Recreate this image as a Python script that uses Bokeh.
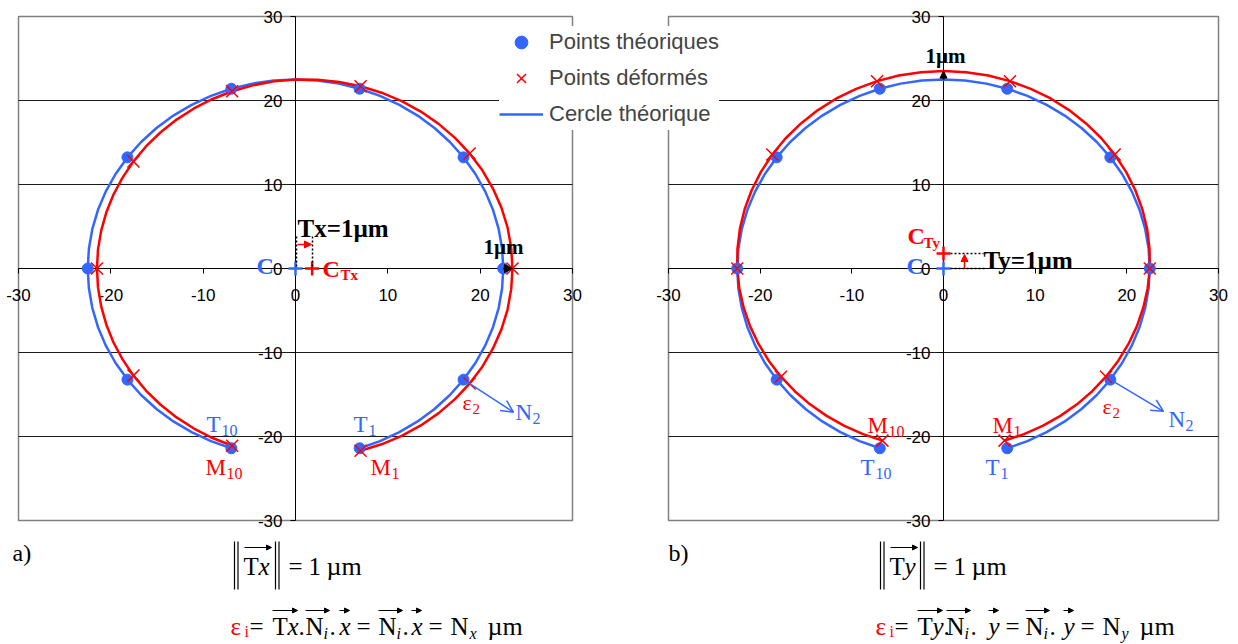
import numpy as np
from bokeh.plotting import figure
from bokeh.models import (Range1d, LinearAxis, FixedTicker, Legend, LegendItem,
                          Label, Arrow, NormalHead, OpenHead)
from bokeh.embed import file_html
from bokeh.resources import INLINE

# ---------------- data ----------------
R = 22.5          # theoretical radius
T_SHIFT = 1.0     # translation (µm)
TICKS = [-30, -20, -10, 0, 10, 20, 30]
TICK_LABELS = ["-30", "-20", "-10", "0", "10", "20", "30"]
GRID_Y = [-20, -10, 10, 20]

# theoretical points T1..T10
t_x = [6.95, 18.20, 22.50, 18.20, 6.95, -6.95, -18.20, -22.50, -18.20, -6.95]
t_y = [-21.40, -13.23, 0.0, 13.23, 21.40, 21.40, 13.23, 0.0, -13.23, -21.40]
# deformed points, panel a) (Tx)
ma_x = [7.05, 18.86, 23.50, 18.86, 7.05, -6.86, -17.55, -21.50, -17.55, -6.86]
ma_y = [-21.69, -13.70, 0.0, 13.70, 21.69, 21.10, 12.75, 0.0, -12.75, -21.10]
# deformed points, panel b) (Ty)
mb_x = [6.66, 17.73, 22.50, 18.68, 7.25, -7.25, -18.68, -22.50, -17.73, -6.66]
mb_y = [-20.49, -12.88, 0.0, 13.57, 22.30, 22.30, 13.57, 0.0, -12.88, -20.49]

# curves (polar samples: angle in degrees, radius)
curve_deg = [-72, -66, -60, -54, -48, -42, -36, -30, -24, -18, -12, -6, 0, 6, 12, 18, 24, 30,
             36, 42, 48, 54, 60, 66, 72, 78, 84, 90, 96, 102, 108, 114, 120, 126, 132, 138,
             144, 150, 156, 162, 168, 174, 180, 186, 192, 198, 204, 210, 216, 222, 228, 234,
             240, 246, 252]
circle_r = [22.5, 22.5, 22.5, 22.5, 22.5, 22.5, 22.5, 22.5, 22.5, 22.5, 22.5, 22.5, 22.5, 22.5,
            22.5, 22.5, 22.5, 22.5, 22.5, 22.5, 22.5, 22.5, 22.5, 22.5, 22.5, 22.5, 22.5, 22.5,
            22.5, 22.5, 22.5, 22.5, 22.5, 22.5, 22.5, 22.5, 22.5, 22.5, 22.5, 22.5, 22.5, 22.5,
            22.5, 22.5, 22.5, 22.5, 22.5, 22.5, 22.5, 22.5, 22.5, 22.5, 22.5, 22.5, 22.5]
curve_ra = [22.81, 22.91, 23.00, 23.09, 23.17, 23.24, 23.31, 23.37, 23.41, 23.45, 23.48, 23.49,
            23.50, 23.49, 23.48, 23.45, 23.41, 23.37, 23.31, 23.24, 23.17, 23.09, 23.00, 22.91,
            22.81, 22.71, 22.60, 22.50, 22.40, 22.29, 22.19, 22.09, 22.00, 21.91, 21.83, 21.76,
            21.69, 21.63, 21.59, 21.55, 21.52, 21.51, 21.50, 21.51, 21.52, 21.55, 21.59, 21.63,
            21.69, 21.76, 21.83, 21.91, 22.00, 22.09, 22.19]
curve_rb = [21.55, 21.59, 21.63, 21.69, 21.76, 21.83, 21.91, 22.00, 22.09, 22.19, 22.29, 22.40,
            22.50, 22.60, 22.71, 22.81, 22.91, 23.00, 23.09, 23.17, 23.24, 23.31, 23.37, 23.41,
            23.45, 23.48, 23.49, 23.50, 23.49, 23.48, 23.45, 23.41, 23.37, 23.31, 23.24, 23.17,
            23.09, 23.00, 22.91, 22.81, 22.71, 22.60, 22.50, 22.40, 22.29, 22.19, 22.09, 22.00,
            21.91, 21.83, 21.76, 21.69, 21.63, 21.59, 21.55]

BLUE = "#3366ff"
RED = "#ff0000"


def polar(deg, r):
    a = np.radians(deg)
    r = np.asarray(r)
    return r * np.cos(a), r * np.sin(a)


# ---------------- layout ----------------
W, H = 1238, 644
PAGE = 0
# picture pixel positions of panel frames
AX0, AX1 = 18, 572      # panel a: x=-30 .. 30
BX0, BX1 = 668, 1218    # panel b
Y_TOP, Y_BOT = 16, 520  # y=30 .. -30


def xrange_for(px0, px1):
    s = (px1 - px0) / 60.0
    start = -30 - (px0 - PAGE) / s
    return Range1d(start, start + W / s)


sy = (Y_BOT - Y_TOP) / 60.0
y_top = 30 + (Y_TOP - PAGE) / sy
p = figure(width=W, height=H, output_backend="svg", toolbar_location=None,
           x_range=xrange_for(AX0, AX1), y_range=Range1d(y_top - H / sy, y_top),
           x_axis_type=None, y_axis_type=None, min_border=0)
p.extra_x_ranges = {"b": xrange_for(BX0, BX1)}
p.outline_line_color = None
p.title.visible = False
p.background_fill_color = "white"
p.border_fill_color = "white"

overrides = {t: s for t, s in zip(TICKS, TICK_LABELS)}
for rn in ("default", "b"):
    # plot-area frame and gridlines
    p.quad(left=-30, right=30, bottom=-30, top=30, fill_color=None,
           line_color="#808080", line_width=1.5, x_range_name=rn, level="underlay")
    p.segment(x0=[-30] * len(GRID_Y), x1=[30] * len(GRID_Y), y0=GRID_Y, y1=GRID_Y,
              line_color="#1a1a1a", line_width=1, x_range_name=rn, level="underlay")
    for side in ("below", "left"):
        ax = LinearAxis(x_range_name=rn)
        ax.ticker = FixedTicker(ticks=TICKS)
        ax.major_label_overrides = overrides
        ax.bounds = (-30, 30)
        ax.fixed_location = 0
        ax.major_tick_in = 0
        ax.major_tick_out = 5
        ax.minor_tick_line_color = None
        ax.axis_line_color = "black"
        ax.major_tick_line_color = "black"
        ax.major_label_text_font = "Liberation Sans"
        ax.major_label_text_font_size = "17px"
        ax.major_label_text_color = "black"
        ax.major_label_standoff = 15 if side == "below" else 8
        ax.level = "underlay"
        p.add_layout(ax, side)

# panel a
cx, cy = polar(curve_deg, circle_r)
rx, ry = polar(curve_deg, curve_ra)
line_a = p.line(cx, cy, line_color=BLUE, line_width=2.5)
p.line(rx, ry, line_color=RED, line_width=2.5)
pts_a = p.scatter(t_x, t_y, marker="circle", size=11, fill_color=BLUE, line_color=BLUE)
def_a = p.scatter(ma_x, ma_y, marker="x", size=17, line_color=RED, line_width=1.5)

# panel b
bx, by = polar(curve_deg, curve_rb)
p.line(cx, cy, line_color=BLUE, line_width=2.5, x_range_name="b")
p.line(bx, by, line_color=RED, line_width=2.5, x_range_name="b")
p.scatter(t_x, t_y, marker="circle", size=11, fill_color=BLUE, line_color=BLUE, x_range_name="b")
p.scatter(mb_x, mb_y, marker="x", size=17, line_color=RED, line_width=1.5, x_range_name="b")

# centres
p.scatter([0], [0], marker="cross", size=14, line_color=BLUE, line_width=2.5)
p.scatter([1.8], [0], marker="cross", size=14, line_color=RED, line_width=2.5)
p.scatter([0], [0], marker="cross", size=14, line_color=BLUE, line_width=2.5, x_range_name="b")
p.scatter([0], [1.8], marker="cross", size=14, line_color=RED, line_width=2.5, x_range_name="b")

# legend
legend = Legend(items=[LegendItem(label="Points théoriques", renderers=[pts_a]),
                       LegendItem(label="Points déformés", renderers=[def_a]),
                       LegendItem(label="Cercle théorique", renderers=[line_a])],
                location=(499, 514), orientation="vertical",
                label_text_font="Liberation Sans", label_text_font_size="22px",
                glyph_width=44, glyph_height=32, label_height=24, label_standoff=6,
                spacing=4, padding=4, margin=0, border_line_color=None,
                background_fill_color="white", background_fill_alpha=1.0)
p.add_layout(legend, "center")


# ---------------- annotations (picture pixel positions) ----------------
def lab(text, px, py, size, color="black", style="normal", font="Liberation Serif", align="left"):
    p.add_layout(Label(x=px - PAGE, y=H - (py - PAGE), x_units="screen", y_units="screen",
                       text=text, text_font=font, text_font_size=f"{size}px",
                       text_color=color, text_font_style=style, text_align=align,
                       text_baseline="middle"))


def arr(x0, y0, x1, y1, color="black", width=1.5, head=None, dash="solid"):
    p.add_layout(Arrow(x_start=x0 - PAGE, y_start=H - (y0 - PAGE), x_end=x1 - PAGE,
                       y_end=H - (y1 - PAGE), start_units="screen", end_units="screen",
                       end=head, line_color=color, line_width=width, line_dash=dash))


def nhead(color, size=8):
    return NormalHead(size=size, fill_color=color, line_color=color)


# panel a annotations
lab("C", 256, 265, 24, BLUE, "bold")
lab("C", 322, 268, 24, RED, "bold")
lab("Tx", 340, 274, 15, RED, "bold")
lab("Tx=1µm", 297, 228, 25, "black", "bold")
arr(296, 236, 296, 268, "black", 1.5, None, "2 2")
arr(312, 236, 312, 268, "black", 1.5, None, "2 2")
arr(297, 244, 311, 244, RED, 1.5, nhead(RED, 7))
lab("1µm", 483, 246, 21, "black", "bold")
p.add_layout(Arrow(x_start=t_x[2], y_start=t_y[2], x_end=ma_x[2], y_end=ma_y[2],
                   end=nhead("black", 8), line_color="black", line_width=2))
lab("T", 206, 424, 23, BLUE); lab("10", 221, 430, 16, BLUE)
lab("M", 205, 467, 23, RED); lab("10", 226, 473, 16, RED)
lab("T", 353, 424, 23, BLUE); lab("1", 368, 430, 16, BLUE)
lab("M", 370, 467, 23, RED); lab("1", 391, 473, 16, RED)
lab("ε", 462, 402, 22, RED); lab("2", 472, 408, 15, RED)
lab("N", 515, 412, 23, BLUE); lab("2", 532, 418, 16, BLUE)
p.add_layout(Arrow(x_start=t_x[1], y_start=t_y[1], x_end=23.6, y_end=-17.1,
                   end=OpenHead(size=12, line_color=BLUE, line_width=1.5),
                   line_color=BLUE, line_width=1.5))

# panel b annotations
lab("1µm", 925, 55, 21, "black", "bold")
p.add_layout(Arrow(x_start=0, y_start=R, x_end=0, y_end=R + T_SHIFT, x_range_name="b",
                   end=nhead("black", 7), line_color="black", line_width=2))
lab("C", 906, 265, 24, BLUE, "bold")
lab("C", 907, 235, 24, RED, "bold")
lab("Ty", 923, 242, 15, RED, "bold")
arr(950, 253, 983, 253, "black", 1.5, None, "2 2")
arr(950, 268, 985, 268, "black", 1.5, None, "2 2")
arr(964, 268, 964, 254, RED, 1.5, nhead(RED, 7))
lab("Ty=1µm", 983, 260, 25, "black", "bold")
lab("M", 867, 425, 23, RED); lab("10", 888, 431, 16, RED)
lab("T", 860, 467, 23, BLUE); lab("10", 875, 473, 16, BLUE)
lab("M", 992, 425, 23, RED); lab("1", 1013, 431, 16, RED)
lab("T", 985, 467, 23, BLUE); lab("1", 1000, 473, 16, BLUE)
lab("ε", 1102, 406, 22, RED); lab("2", 1112, 412, 15, RED)
lab("N", 1168, 419, 23, BLUE); lab("2", 1185, 425, 16, BLUE)
p.add_layout(Arrow(x_start=t_x[1], y_start=t_y[1], x_end=24.0, y_end=-17.0, x_range_name="b",
                   end=OpenHead(size=12, line_color=BLUE, line_width=1.5),
                   line_color=BLUE, line_width=1.5))

# ---------------- formulas below ----------------
FS = 25
lab("a)", 12, 552, 24)
lab("b)", 668, 552, 24)


def norm_formula(x_bar, letter, x_letter, x_close, x_eq):
    for bx_ in (x_bar, x_bar + 3.5, x_close, x_close + 3.5):
        arr(bx_, 541, bx_, 589, "black", 1.2)
    lab("T", x_letter, 566, FS)
    lab(letter, x_letter + 15, 566, FS, style="italic")
    arr(x_letter + 1, 547, x_letter + 28, 547, "black", 1, nhead("black", 5))
    lab("=", x_eq, 566, FS)
    lab("1", x_eq + 20, 566, FS)
    lab("µm", x_eq + 38, 566, FS + 1)


norm_formula(234, "x", 243, 275, 288)
norm_formula(880, "y", 889, 920, 933)


def eps_formula(x0, letter, pos):
    y = 626
    lab("ε", x0, y, FS, RED)
    lab("i", x0 + 14, y + 5, 16, RED)
    lab("=", x0 + 19, y, FS)
    xs = pos
    lab("T", xs[0], y, FS); lab(letter, xs[0] + 15, y, FS, style="italic")
    arr(xs[0], 610, xs[0] + 25, 610, "black", 1, nhead("black", 5))
    lab(".", xs[0] + 26, y, FS)
    lab("N", xs[1], y, FS); lab("i", xs[1] + 18, y + 7, 16, style="italic")
    arr(xs[1], 610, xs[1] + 24, 610, "black", 1, nhead("black", 5))
    lab(".", xs[1] + 24, y, FS)
    lab(letter, xs[2], y, FS, style="italic")
    arr(xs[2], 610, xs[2] + 10, 610, "black", 1, nhead("black", 5))
    lab("=", xs[2] + 17, y, FS)
    lab("N", xs[3], y, FS); lab("i", xs[3] + 18, y + 7, 16, style="italic")
    arr(xs[3], 610, xs[3] + 24, 610, "black", 1, nhead("black", 5))
    lab(".", xs[3] + 24, y, FS)
    lab(letter, xs[4], y, FS, style="italic")
    arr(xs[4], 610, xs[4] + 10, 610, "black", 1, nhead("black", 5))
    lab("=", xs[4] + 17, y, FS)
    lab("N", xs[5], y, FS); lab(letter, xs[5] + 19, y + 7, 16, style="italic")
    lab("µm", xs[5] + 37, y, FS + 1)


eps_formula(230, "x", [272, 305, 339, 378, 411, 450])
eps_formula(875, "y", [917, 946, 988, 1025, 1063, 1102])

open("out.html", "w").write(file_html(p, INLINE))
